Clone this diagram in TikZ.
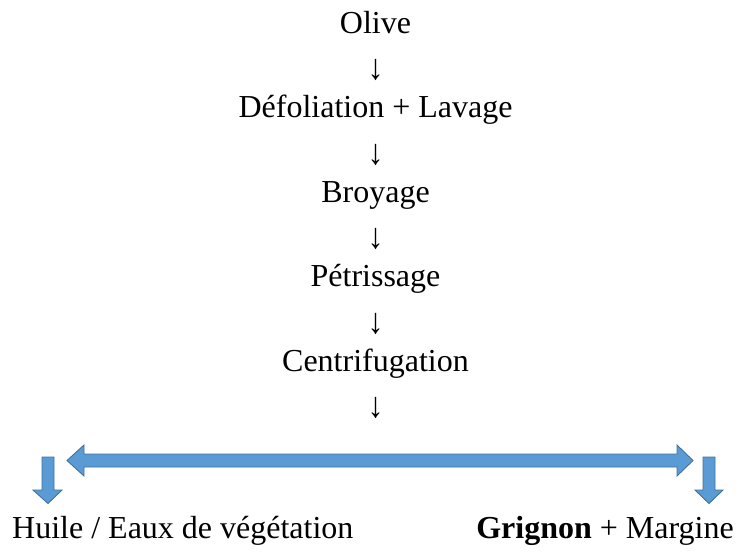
\documentclass[tikz,border=0pt]{standalone}
\usepackage{fontspec}
\setmainfont{Liberation Serif}
\begin{document}
\begin{tikzpicture}[x=1pt,y=-1pt,
  lbl/.style={inner sep=0pt,anchor=base,font=\fontsize{32}{38}\selectfont},
  blockarrow/.style={fill=arrowfill,draw=arrowline,line width=0.9pt,line join=miter}]
\definecolor{arrowfill}{HTML}{5B9BD5}
\definecolor{arrowline}{HTML}{41719C}
\newcommand{\darr}{\scalebox{1}[1.12]{↓}}
\useasboundingbox (0,0) rectangle (742,552);
\node[lbl] (olive) at (375.5,33) {Olive};
\node[lbl] (a1) at (375.5,79) {\darr};
\node[lbl] (defol) at (375.5,117.5) {Défoliation + Lavage};
\node[lbl] (a2) at (375.5,164) {\darr};
\node[lbl] (broy) at (375.5,202) {Broyage};
\node[lbl] (a3) at (375.5,248) {\darr};
\node[lbl] (petr) at (375.5,286) {Pétrissage};
\node[lbl] (a4) at (375.5,333) {\darr};
\node[lbl] (centr) at (375.5,371) {Centrifugation};
\node[lbl] (a5) at (375.5,417) {\darr};
\node[lbl,anchor=base west] (huile) at (12,538) {Huile / Eaux de végétation};
\node[lbl,anchor=base east] (grig) at (734,538) {\textbf{Grignon} + Margine};
% double block arrow
\draw[blockarrow] (67,460.5) -- (84,445) -- (84,454) -- (677,454) -- (677,445)
  -- (693,460.5) -- (677,476) -- (677,467) -- (84,467) -- (84,476) -- cycle;
% left down arrow
\draw[blockarrow] (42,457) -- (54,457) -- (54,490) -- (62,490) -- (48,503.5)
  -- (33,490) -- (42,490) -- cycle;
% right down arrow
\draw[blockarrow] (703,457) -- (715,457) -- (715,490) -- (723,490) -- (709,503.5)
  -- (695,490) -- (703,490) -- cycle;
\end{tikzpicture}
\end{document}
